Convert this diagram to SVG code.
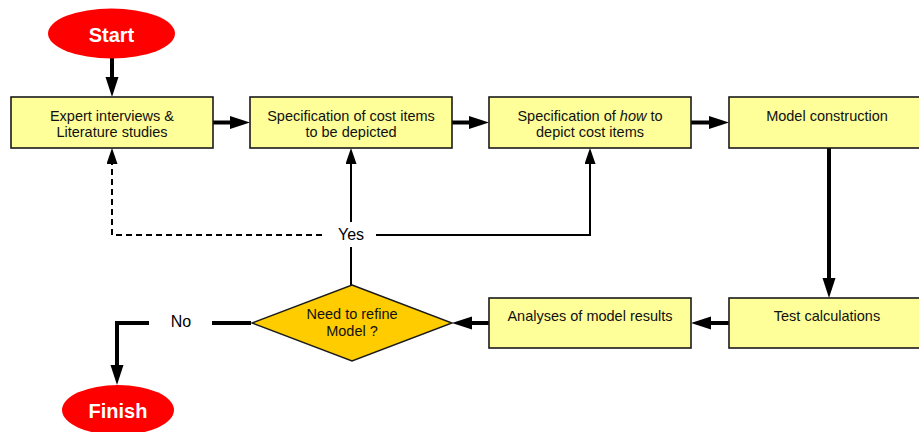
<svg xmlns="http://www.w3.org/2000/svg" width="919" height="432" viewBox="0 0 919 432">
<style>
.box{fill:#FFFF99;stroke:#1a1a1a;stroke-width:1.6}
.dia{fill:#FFCC00;stroke:#1a1a1a;stroke-width:1.4}
.term{fill:#FF0000;stroke:none}
.t{font-family:"Liberation Sans",Arial,sans-serif;font-size:14.5px;fill:#111;text-anchor:middle}
.tt{font-family:"Liberation Sans",Arial,sans-serif;font-size:20px;font-weight:bold;fill:#fff;text-anchor:middle}
.lab{font-family:"Liberation Sans",Arial,sans-serif;font-size:16px;fill:#000;text-anchor:middle}
.thick{fill:none;stroke:#000;stroke-width:4}
.thin{fill:none;stroke:#000;stroke-width:2}
.dash{stroke-dasharray:6,4}
</style>
<defs>
<marker id="ah" markerUnits="userSpaceOnUse" markerWidth="20" markerHeight="14" refX="10" refY="6.5" orient="auto">
<path d="M0,0 L20,6.5 L0,13 z" fill="#000"/>
</marker>
<marker id="as" markerUnits="userSpaceOnUse" markerWidth="16" markerHeight="12" refX="8" refY="5.5" orient="auto">
<path d="M0,0 L16,5.5 L0,11 z" fill="#000"/>
</marker>
</defs>
<rect width="919" height="432" fill="#fff"/>
<g id="connectors">
<path class="thick" d="M112,58 L112,87" marker-end="url(#ah)"/>
<path class="thick" d="M213,122.5 L240,122.5" marker-end="url(#ah)"/>
<path class="thick" d="M452,122.5 L479,122.5" marker-end="url(#ah)"/>
<path class="thick" d="M691,122.5 L719,122.5" marker-end="url(#ah)"/>
<path class="thick" d="M829,148 L829,288" marker-end="url(#ah)"/>
<path class="thick" d="M729,323 L701,323" marker-end="url(#ah)"/>
<path class="thick" d="M489,323 L462,323" marker-end="url(#ah)"/>
<path class="thick" d="M251,323 L212,323"/>
<path class="thick" d="M149,323 L117,323 L117,375" marker-end="url(#ah)"/>
<path class="thin dash" d="M322,235 L112,235 L112,156" marker-end="url(#as)"/>
<path class="thin" d="M351,285 L351,247"/>
<path class="thin" d="M351,222 L351,156" marker-end="url(#as)"/>
<path class="thin" d="M376,235 L590,235 L590,156" marker-end="url(#as)"/>
<text class="lab" x="351" y="240">Yes</text>
<text class="lab" x="181" y="327">No</text>
</g>
<g id="start">
<ellipse class="term" cx="111.5" cy="33.5" rx="63.5" ry="25"/>
<text class="tt" x="111.5" y="42">Start</text>
</g>
<g id="expert">
<rect class="box" x="11" y="97" width="202" height="51"/>
<text class="t" x="112" y="121">Expert interviews &amp;</text>
<text class="t" x="112" y="137">Literature studies</text>
</g>
<g id="spec-items">
<rect class="box" x="250" y="97" width="202" height="51"/>
<text class="t" x="351" y="121">Specification of cost items</text>
<text class="t" x="351" y="137">to be depicted</text>
</g>
<g id="spec-how">
<rect class="box" x="489" y="97" width="202" height="51"/>
<text class="t" x="590" y="121">Specification of <tspan font-style="italic">how</tspan> to</text>
<text class="t" x="590" y="137">depict cost items</text>
</g>
<g id="model-construction">
<rect class="box" x="729" y="97" width="202" height="51"/>
<text class="t" x="827" y="121">Model construction</text>
</g>
<g id="test-calculations">
<rect class="box" x="729" y="298" width="202" height="50"/>
<text class="t" x="827" y="321">Test calculations</text>
</g>
<g id="analyses">
<rect class="box" x="489" y="298" width="202" height="50"/>
<text class="t" x="590" y="321">Analyses of model results</text>
</g>
<g id="decision">
<polygon class="dia" points="352,285 452,323 352,361 252,323"/>
<text class="t" x="352" y="319">Need to refine</text>
<text class="t" x="352" y="336">Model ?</text>
</g>
<g id="finish">
<ellipse class="term" cx="118" cy="410" rx="56" ry="25"/>
<text class="tt" x="118" y="418">Finish</text>
</g>
</svg>
